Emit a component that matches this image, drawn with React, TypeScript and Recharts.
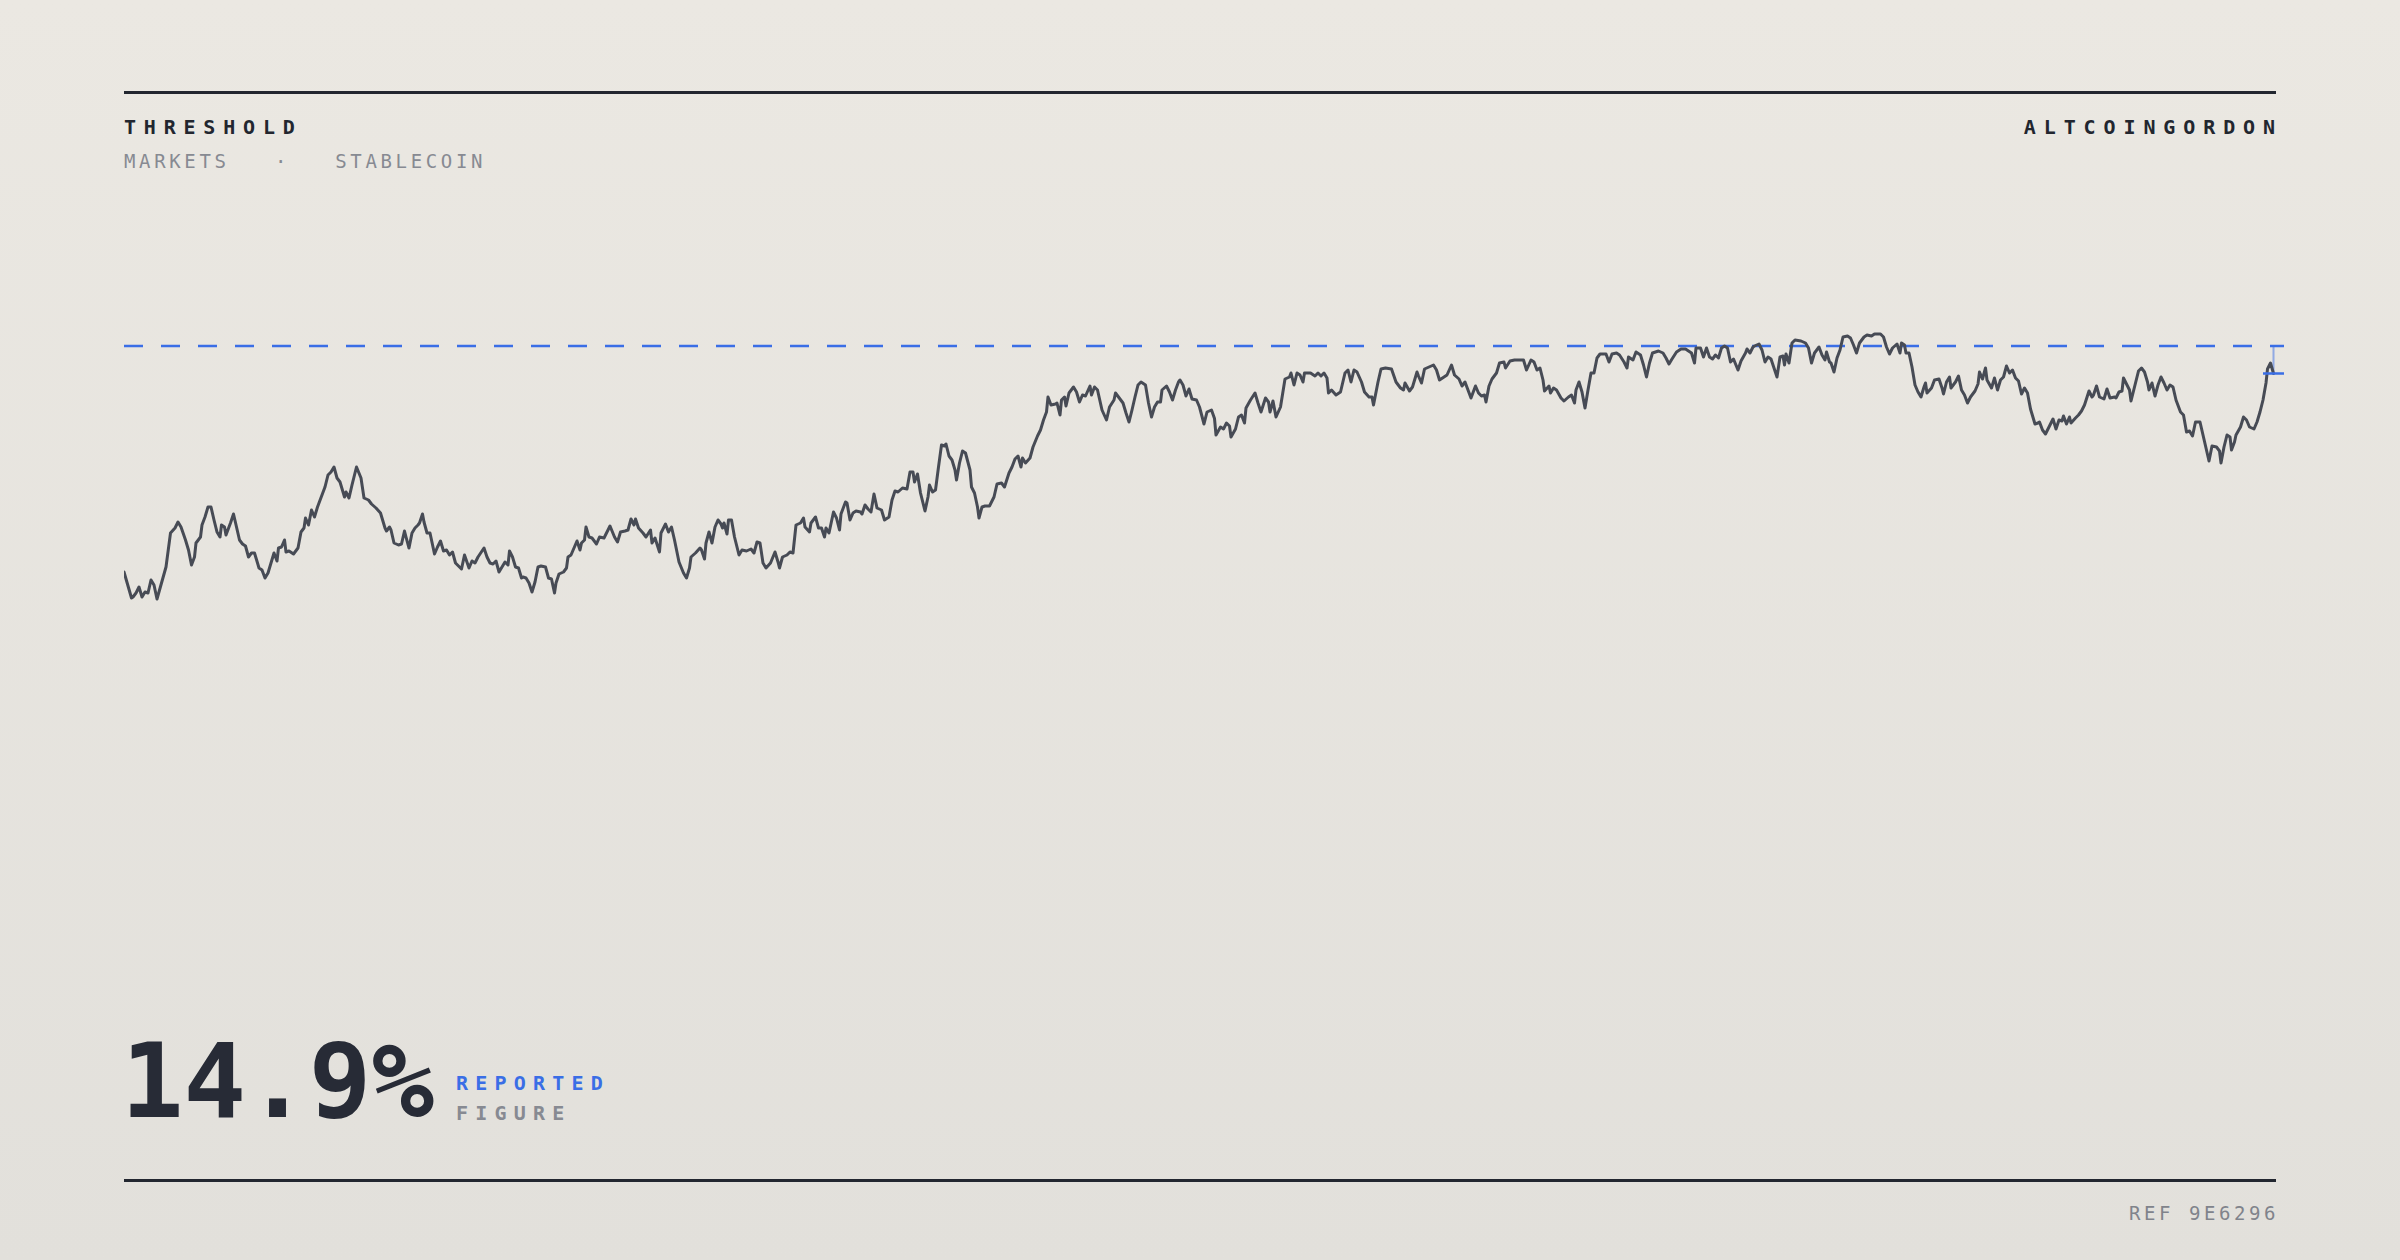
import React from 'react';
import { LineChart, Line, XAxis, YAxis, ReferenceLine } from 'recharts';

// ---- data (day index, reported value in %) ----
const days = [
  0, 5, 6, 8, 10, 12, 14, 16, 18, 20, 22, 25, 28, 31, 34, 36, 38, 41, 43, 45, 47, 48, 51, 52, 54, 56, 58, 60, 62, 64, 65, 67, 68, 71, 73, 75, 77, 79, 81, 83, 85, 87, 90, 92, 94, 96, 98, 100, 102, 103, 105, 107, 108, 110, 113, 116, 118, 120, 121, 123, 125, 127, 129, 132, 134, 136, 138, 140, 142, 144, 147, 148, 150, 152, 155, 158, 160, 163, 165, 168, 171, 174, 175, 177, 178, 180,
  183, 185, 187, 188, 190, 192, 194, 196, 197, 199, 200, 202, 204, 207, 209, 211, 213, 215, 217, 219, 221, 223, 225, 227, 230, 232, 234, 236, 240, 242, 244, 246, 248, 250, 252, 254, 256, 257, 259, 261, 263, 265, 266, 268, 270, 272, 274, 276, 278, 281, 283, 285, 287, 288, 290, 293, 295, 296, 298, 300, 302, 304, 305, 307, 308, 310, 312, 315, 317, 320, 322, 324, 327, 329, 331, 334, 336, 338, 340, 341, 343, 346, 348, 351, 352, 354, 357, 358, 361, 363,
  365, 367, 370, 373, 375, 377, 378, 381, 384, 385, 387, 388, 390, 392, 394, 396, 398, 399, 400, 402, 403, 405, 407, 410, 412, 415, 418, 420, 422, 424, 426, 428, 431, 434, 436, 437, 439, 442, 444, 446, 448, 451, 453, 454, 457, 458, 461, 463, 465, 467, 468, 470, 473, 475, 477, 478, 481, 482, 484, 486, 488, 491, 492, 494, 496, 498, 500, 502, 505, 507, 510, 512, 514, 516, 519, 522, 524, 526, 527, 529, 531, 534, 536, 537, 539, 541, 543, 545, 547,
  548, 550, 552, 554, 555, 557, 559, 561, 564, 565, 567, 569, 570, 572, 574, 577, 580, 582, 585, 587, 590, 592, 594, 596, 598, 599, 601, 604, 606, 609, 611, 613, 615, 616, 618, 621, 622, 624, 625, 627, 628, 630, 633, 635, 637, 639, 641, 644, 645, 647, 649, 652, 655, 657, 660, 661, 664, 666, 668, 670, 672, 674, 676, 678, 681, 683, 685, 687, 689, 691, 692, 695, 697, 699, 701, 703, 704, 706, 708, 710, 712, 715, 717, 720, 722, 725,
  727, 728, 731, 733, 735, 737, 738, 741, 743, 745, 747, 748, 751, 754, 756, 758, 761, 763, 764, 766, 768, 771, 774, 777, 778, 780, 782, 784, 786, 787, 791, 794, 796, 798, 800, 802, 803, 805, 808, 811, 814, 816, 818, 820, 822, 825, 827, 830, 832, 833, 836, 838, 841, 845, 848, 851, 853, 854, 857, 859, 862, 863, 865, 867, 870, 873, 875, 877, 880, 882, 885, 887, 890, 892, 894, 896, 898, 901, 903, 905, 907, 908, 910,
  912, 915, 917, 920, 921, 924, 927, 933, 935, 938, 940, 942, 944, 946, 947, 950, 951, 953, 955, 958, 960, 963, 965, 967, 968, 970, 972, 974, 976, 978, 980, 982, 984, 988, 990, 992, 995, 997, 1000, 1002, 1003, 1006, 1008, 1011, 1013, 1015, 1017, 1019, 1023, 1026, 1028, 1030, 1032, 1035, 1038, 1041, 1043, 1045, 1047, 1048, 1051, 1053, 1055, 1057, 1059, 1061, 1063, 1065, 1067, 1069, 1071, 1073, 1076, 1078, 1081, 1082, 1084, 1086, 1087, 1090, 1092,
  1094, 1096, 1098, 1100, 1102, 1104, 1106, 1107, 1108, 1110, 1112, 1114, 1118, 1121, 1123, 1125, 1127, 1130, 1132, 1134, 1135, 1137, 1138, 1140, 1142, 1144, 1146, 1149, 1151, 1153, 1155, 1157, 1160, 1162, 1165, 1167, 1171, 1173, 1175, 1177, 1179, 1182, 1184, 1185, 1187, 1188, 1190, 1192, 1194, 1196, 1198, 1200, 1201, 1202, 1205, 1207, 1210, 1212, 1213, 1215, 1217, 1218, 1221, 1223, 1225, 1227, 1229, 1231, 1234, 1236, 1237, 1239, 1241, 1242, 1245, 1247, 1249, 1251, 1253, 1255, 1257, 1259, 1261, 1263, 1265, 1267, 1269, 1271, 1274, 1276, 1277,
  1279, 1281, 1283, 1286, 1288, 1290, 1292, 1293, 1295, 1297, 1298, 1301, 1303, 1305, 1307, 1310, 1312, 1313, 1315, 1317, 1320, 1322, 1324, 1327, 1328, 1330, 1332, 1333, 1336, 1337, 1338, 1341, 1343, 1345, 1347, 1349, 1350, 1352, 1354, 1356, 1358, 1360, 1362, 1364, 1366, 1368, 1371, 1373, 1375, 1377, 1379, 1381, 1384, 1386, 1388, 1390, 1392, 1395, 1397, 1398, 1400, 1402, 1404, 1405, 1407, 1408, 1411, 1413, 1415, 1417, 1420, 1422, 1424, 1426, 1428, 1429, 1431, 1433,
];

const values = [
  6.96, 5.92, 5.96, 6.12, 6.36, 5.96, 6.16, 6.12, 6.64, 6.44, 5.88, 6.52, 7.16, 8.52, 8.72, 8.96, 8.76, 8.24, 7.84, 7.24, 7.56, 8.12, 8.36, 8.84, 9.16, 9.56, 9.56, 9.04, 8.56, 8.36, 8.84, 8.76, 8.44, 8.92, 9.28, 8.76, 8.24, 8.08, 8.0, 7.56, 7.72, 7.72, 7.12, 7.04, 6.72, 6.92, 7.32, 7.72, 7.4, 7.92, 7.96, 8.24, 7.76, 7.8, 7.68, 7.92, 8.56, 8.72, 9.12, 8.84, 9.44, 9.16, 9.56, 10.04, 10.36, 10.84, 10.96, 11.16, 10.72, 10.56, 9.96, 10.16, 9.92, 10.44, 11.16, 10.72, 9.92, 9.84, 9.68, 9.52, 9.32, 8.72, 8.6, 8.76, 8.64, 8.12,
  8.04, 8.08, 8.6, 8.36, 7.92, 8.52, 8.72, 8.84, 8.92, 9.28, 8.96, 8.52, 8.52, 7.68, 7.96, 8.2, 7.8, 7.84, 7.64, 7.76, 7.32, 7.2, 7.08, 7.64, 7.12, 7.4, 7.32, 7.56, 7.92, 7.56, 7.32, 7.28, 7.4, 6.96, 7.16, 7.36, 7.24, 7.8, 7.56, 7.16, 7.12, 6.72, 6.76, 6.72, 6.52, 6.16, 6.56, 7.16, 7.2, 7.16, 6.72, 6.68, 6.12, 6.52, 6.88, 6.96, 7.12, 7.56, 7.64, 7.92, 8.2, 7.84, 8.12, 8.24, 8.76, 8.36, 8.32, 8.08, 8.36, 8.32, 8.56, 8.8, 8.36, 8.16, 8.56, 8.6, 8.64, 9.08, 8.84, 9.08, 8.72, 8.52, 8.36, 8.64, 8.12, 8.32, 7.76, 8.52, 8.88, 8.56,
  8.76, 8.24, 7.36, 6.92, 6.72, 7.12, 7.56, 7.72, 7.92, 7.84, 7.48, 8.12, 8.56, 8.12, 8.76, 9.04, 8.88, 8.72, 8.92, 8.48, 9.04, 9.04, 8.36, 7.64, 7.84, 7.8, 7.88, 7.72, 8.16, 8.12, 7.32, 7.12, 7.32, 7.76, 7.36, 7.12, 7.56, 7.64, 7.76, 7.72, 8.84, 8.92, 9.12, 8.76, 8.56, 8.92, 9.16, 8.72, 8.72, 8.36, 8.72, 8.52, 9.36, 9.12, 8.64, 9.28, 9.76, 9.72, 9.04, 9.32, 9.4, 9.36, 9.28, 9.64, 9.48, 9.36, 10.08, 9.52, 9.44, 9.04, 9.16, 9.84, 10.2, 10.16, 10.32, 10.28, 10.96, 10.96, 10.56, 10.88, 10.12, 9.4, 9.96, 10.44, 10.16, 10.24, 11.16, 12.04, 12.0,
  12.08, 11.6, 11.44, 11.04, 10.64, 11.32, 11.8, 11.72, 11.04, 10.36, 10.12, 9.56, 9.12, 9.56, 9.6, 9.6, 9.96, 10.48, 10.52, 10.36, 10.92, 11.16, 11.48, 11.6, 11.16, 11.52, 11.32, 11.52, 11.96, 12.4, 12.64, 13.04, 13.36, 13.96, 13.64, 13.68, 13.72, 13.24, 13.84, 13.96, 13.6, 14.12, 14.36, 14.16, 13.76, 14.04, 14.0, 14.4, 14.04, 14.36, 14.24, 13.44, 13.04, 13.56, 13.84, 14.12, 13.88, 13.72, 13.32, 12.96, 13.44, 13.96, 14.44, 14.56, 14.44, 13.72, 13.16, 13.56, 13.76, 13.76, 14.24, 14.4, 14.16, 13.84, 14.24, 14.56, 14.64, 14.44, 14.0, 14.28, 13.88, 13.84, 13.56, 12.88, 13.36, 13.44,
  13.1, 12.44, 12.76, 12.68, 12.92, 12.8, 12.36, 12.68, 13.16, 13.24, 12.92, 13.52, 13.84, 14.12, 13.72, 13.36, 13.92, 13.76, 13.36, 13.8, 13.16, 13.56, 14.68, 14.76, 14.92, 14.44, 14.92, 14.84, 14.56, 14.92, 14.92, 14.8, 14.92, 14.8, 14.92, 14.72, 14.12, 14.24, 14.04, 14.16, 14.92, 15.04, 14.56, 15.04, 14.96, 14.56, 14.16, 13.96, 13.96, 13.64, 14.56, 15.08, 15.12, 15.08, 14.56, 14.32, 14.24, 14.52, 14.2, 14.36, 14.96, 14.8, 14.52, 15.08, 15.16, 15.24, 15.04, 14.64, 14.76, 14.84, 15.24, 14.84, 14.68, 14.4, 14.56, 14.24, 13.92, 14.4, 14.12, 14.0, 14.04, 13.76, 14.4,
  14.68, 14.92, 15.32, 15.36, 15.12, 15.4, 15.44, 15.44, 15.04, 15.44, 15.36, 15.04, 15.12, 14.64, 14.2, 14.4, 14.12, 14.32, 14.24, 13.92, 13.8, 13.96, 14.04, 13.72, 14.24, 14.56, 14.16, 13.52, 14.24, 14.92, 14.92, 15.52, 15.68, 15.68, 15.36, 15.68, 15.72, 15.64, 15.36, 15.12, 15.56, 15.44, 15.76, 15.64, 15.24, 14.76, 15.32, 15.72, 15.8, 15.72, 15.52, 15.28, 15.48, 15.76, 15.88, 15.88, 15.8, 15.72, 15.32, 15.92, 15.92, 15.56, 15.92, 15.56, 15.48, 15.64, 15.52, 15.92, 16.0, 15.92, 15.36, 15.48, 15.04, 15.4, 15.72, 15.88, 15.72, 15.96, 16.0, 16.08, 15.84,
  15.36, 15.56, 15.48, 15.12, 14.76, 15.56, 15.6, 15.24, 15.68, 15.32, 16.12, 16.24, 16.2, 16.12, 15.92, 15.32, 15.72, 15.96, 15.64, 15.44, 15.76, 15.36, 15.32, 14.96, 15.52, 15.84, 16.36, 16.4, 16.32, 16.04, 15.72, 16.12, 16.36, 16.44, 16.4, 16.48, 16.48, 16.36, 15.96, 15.68, 15.92, 16.08, 15.72, 16.12, 16.04, 15.72, 15.72, 15.16, 14.44, 14.16, 13.96, 14.36, 14.52, 14.12, 14.32, 14.64, 14.68, 14.32, 14.08, 14.56, 14.76, 14.32, 14.56, 14.8, 14.24, 14.04, 13.72, 13.96, 14.2, 14.48, 14.96, 14.68, 15.12, 14.64, 14.32, 14.72, 14.24, 14.64, 14.76, 15.2, 14.92, 15.04, 14.72, 14.6, 14.08, 14.32, 14.12, 13.48, 12.88, 12.92, 12.96,
  12.64, 12.48, 12.72, 13.08, 12.68, 13.04, 13.0, 13.2, 12.88, 13.16, 12.92, 13.12, 13.24, 13.4, 13.64, 14.2, 13.96, 14.04, 14.4, 13.96, 13.88, 14.28, 13.92, 13.96, 13.92, 14.16, 14.2, 14.72, 14.36, 14.24, 13.8, 14.52, 15.0, 15.12, 14.96, 14.56, 14.24, 14.52, 14.0, 14.44, 14.76, 14.52, 14.24, 14.44, 14.36, 13.84, 13.36, 13.24, 12.56, 12.6, 12.4, 12.96, 12.96, 12.44, 11.92, 11.4, 12.0, 11.96, 11.8, 11.32, 11.96, 12.44, 12.36, 11.84, 12.16, 12.44, 12.76, 13.16, 13.04, 12.76, 12.68, 12.96, 13.36, 13.84, 14.52, 15.08, 15.32, 14.9,
];

const threshold = 16;
const xDomain: [number, number] = [0, 1440];
const yDomain: [number, number] = [4, 18];
const markerHalfWidthDays = 7;

const titleText = 'THRESHOLD';
const subtitleText = 'MARKETS   \u00b7   STABLECOIN';
const brandText = 'ALTCOINGORDON';
const reportedText = '14.9%';
const reportedLabel = 'REPORTED';
const figureLabel = 'FIGURE';
const refText = 'REF 9E6296';

const data = days.map((d, i) => ({ day: d, value: values[i] }));
const lastDay = days[days.length - 1];
const lastValue = values[values.length - 1];

const INK = '#22262f';
const LINE = '#474b55';
const BLUE = '#3a6ee6';
const GREY = '#878a92';
const FONT = '"DejaVu Sans Mono", "Liberation Mono", monospace';

export default function App() {
  return (
    <div
      style={{
        position: 'absolute',
        left: 0,
        top: 0,
        width: 2400,
        height: 1260,
        overflow: 'hidden',
        background: 'linear-gradient(180deg, #ebe8e2 0%, #e2e0db 100%)',
      }}
    >
      <div style={{ position: 'absolute', left: 0, top: 0 }}>
        <LineChart
          width={2400}
          height={1260}
          data={data}
          margin={{ top: 296, right: 116, bottom: 614, left: 124 }}
        >
          <XAxis type="number" dataKey="day" domain={xDomain} hide allowDataOverflow />
          <YAxis type="number" domain={yDomain} hide allowDataOverflow />
          <ReferenceLine y={threshold} stroke={BLUE} strokeWidth={2.5} strokeDasharray="19 18" />
          <ReferenceLine
            segment={[
              { x: lastDay, y: threshold },
              { x: lastDay, y: lastValue },
            ]}
            stroke={BLUE}
            strokeOpacity={0.5}
            strokeWidth={2}
          />
          <Line
            type="linear"
            dataKey="value"
            stroke={LINE}
            strokeWidth={3}
            dot={false}
            activeDot={false}
            strokeLinejoin="round"
            strokeLinecap="round"
            isAnimationActive={false}
          />
          <ReferenceLine
            segment={[
              { x: lastDay - markerHalfWidthDays, y: lastValue },
              { x: lastDay + markerHalfWidthDays, y: lastValue },
            ]}
            stroke={BLUE}
            strokeWidth={2.5}
          />
        </LineChart>
      </div>
      <svg
        width={2400}
        height={1260}
        style={{ position: 'absolute', left: 0, top: 0, pointerEvents: 'none' }}
      >
        <rect x={124} y={91} width={2152} height={3} fill={INK} />
        <rect x={124} y={1179} width={2152} height={3} fill={INK} />
        <text x={124} y={134} fontFamily={FONT} fontSize={20} fontWeight={700} fill={INK} style={{ letterSpacing: 7.8 }}>
          {titleText}
        </text>
        <text
          x={124}
          y={168}
          fontFamily={FONT}
          fontSize={19}
          fill={GREY}
          xmlSpace="preserve"
          style={{ letterSpacing: 3.65, whiteSpace: 'pre' }}
        >
          {subtitleText}
        </text>
        <text x={2283} y={134} textAnchor="end" fontFamily={FONT} fontSize={20} fontWeight={700} fill={INK} style={{ letterSpacing: 7.9 }}>
          {brandText}
        </text>
        <text x={121} y={1117} fontFamily={FONT} fontSize={104} fontWeight={700} fill="#272b36" style={{ letterSpacing: 0 }}>
          {reportedText}
        </text>
        <text x={456} y={1090} fontFamily={FONT} fontSize={20} fontWeight={700} fill={BLUE} style={{ letterSpacing: 7.2 }}>
          {reportedLabel}
        </text>
        <text x={456} y={1120} fontFamily={FONT} fontSize={20} fontWeight={700} fill={GREY} style={{ letterSpacing: 7.2 }}>
          {figureLabel}
        </text>
        <text x={2279} y={1220} textAnchor="end" fontFamily={FONT} fontSize={19} fill="#80838b" style={{ letterSpacing: 3.55 }}>
          {refText}
        </text>
      </svg>
    </div>
  );
}
